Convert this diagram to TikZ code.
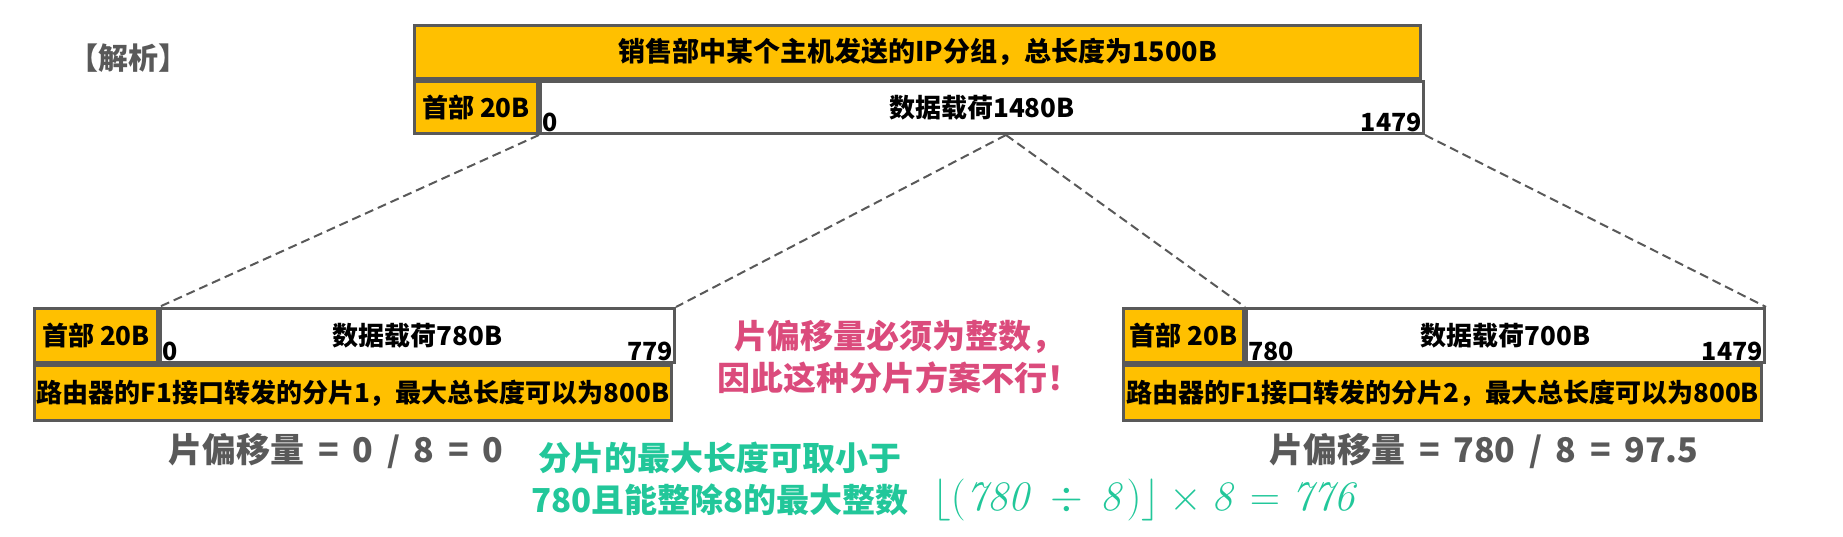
\RequirePackage{fix-cm}
\documentclass[tikz,border=0pt]{standalone}
\usepackage[no-math]{fontspec}
\setmainfont{Noto Sans CJK SC}
\usepackage{tikz}
\usetikzlibrary{positioning,calc}
\definecolor{frame}{HTML}{595959}
\definecolor{gold}{HTML}{FFC000}
\definecolor{rose}{HTML}{DB4B7C}
\definecolor{mint}{HTML}{22C79A}
\newcommand\fsz[2]{\fontsize{#1}{#2}\selectfont}
\newcommand\widesp{\spaceskip 0.4em\relax}
\tikzset{
  cell/.style={rectangle, draw=frame, line width=3pt, inner sep=0pt, align=center,
               font=\fsz{26}{32}\bfseries, text=black},
  hdrcell/.style={cell, fill=gold, minimum width=123, minimum height=54},
  paycell/.style={cell, fill=white, minimum height=54},
  bandcell/.style={cell, fill=gold, minimum height=55},
  idx/.style={font=\fsz{25}{30}\bfseries, inner sep=3pt},
  offtxt/.style={font=\fsz{34}{40}\bfseries\widesp, text=frame},
  warntxt/.style={font=\fsz{33}{42}\bfseries, text=rose, align=center},
  hinttxt/.style={font=\fsz{33}{42}\bfseries, text=mint, align=center},
  cut/.style={draw=frame, line width=2pt, dash pattern=on 9pt off 5pt},
}
\begin{document}
\begin{tikzpicture}[x=1pt,y=-1pt]
\useasboundingbox (0,0) rectangle (1843,537);
\node[offtxt, font=\fsz{30}{36}\bfseries] (tag) at (128,58) {【解析】};
% IP packet from the sales department
\node[bandcell, anchor=north west, minimum width=1006, minimum height=53, font=\fsz{27}{32}\bfseries] (pkt) at (413,24) {销售部中某个主机发送的IP分组，总长度为1500B};
\node[hdrcell, anchor=north west, minimum height=52] (phd) at (pkt.south west) {首部 20B};
\node[paycell, anchor=north west, minimum width=883, minimum height=52] (pay) at (phd.north east) {数据载荷1480B};
\node[idx, anchor=south west] (p0) at (pay.south west) {0};
\node[idx, anchor=south east] (p1479) at (pay.south east) {1479};
% fragment 1
\node[hdrcell, anchor=north west] (lhd) at (33,307) {首部 20B};
\node[paycell, anchor=north west, minimum width=514] (lpay) at (lhd.north east) {数据载荷780B};
\node[bandcell, anchor=north west, minimum width=637] (lband) at (lhd.south west) {路由器的F1接口转发的分片1，最大总长度可以为800B};
\node[idx, anchor=south west] (l0) at (lpay.south west) {0};
\node[idx, anchor=south east] (l779) at (lpay.south east) {779};
% fragment 2
\node[hdrcell, anchor=north west, minimum width=120] (rhd) at (1122,307) {首部 20B};
\node[paycell, anchor=north west, minimum width=518] (rpay) at (rhd.north east) {数据载荷700B};
\node[bandcell, anchor=north west, minimum width=638] (rband) at (rhd.south west) {路由器的F1接口转发的分片2，最大总长度可以为800B};
\node[idx, anchor=south west] (r780) at (rpay.south west) {780};
\node[idx, anchor=south east] (r1479) at (rpay.south east) {1479};
\coordinate (split) at ($(pay.south west)!780/1480!(pay.south east)$);
\draw[cut] (pay.south west) -- (lpay.north west);
\draw[cut] (split) -- (lpay.north east);
\draw[cut] (split) -- (rpay.north west);
\draw[cut] (pay.south east) -- (rpay.north east);
\node[offtxt] (loff) at (336,451) {片偏移量 = 0 / 8 = 0};
\node[offtxt] (roff) at (1484,451) {片偏移量 = 780 / 8 = 97.5};
\node[warntxt] (warn) at (899,357) {片偏移量必须为整数，\\因此这种分片方案不行！};
\node[hinttxt] (hint) at (720,479) {分片的最大长度可取小于\\780且能整除8的最大整数};
\node[text=mint, anchor=west, inner sep=0pt, font=\fsz{42}{48}] (fml) at (932,500)
  {$\Bigl\lfloor(\mathit{780}\,\div\,\mathit{8})\Bigr\rfloor\times\mathit{8}=\mathit{776}$};
\end{tikzpicture}
\end{document}
